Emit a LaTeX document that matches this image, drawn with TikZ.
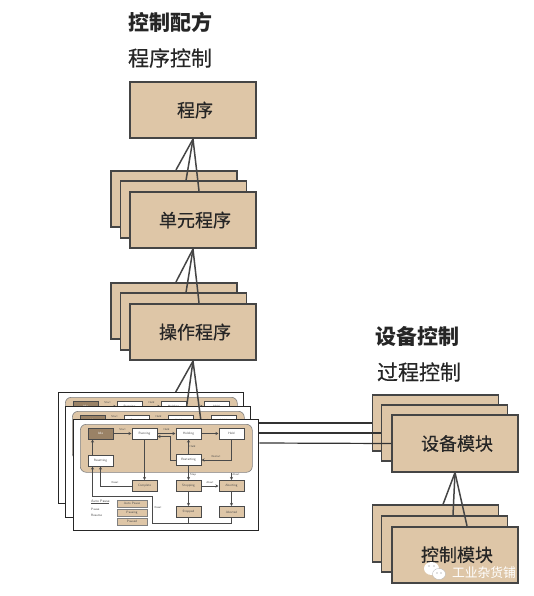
\documentclass[tikz,border=0pt]{standalone}
\usepackage{fontspec}
\newfontfamily\cjk{Noto Sans CJK SC}
\newfontfamily\cjkheavy[FakeBold=0.35]{Noto Sans CJK SC}
\usetikzlibrary{arrows.meta,calc,positioning,shapes.geometric}
\definecolor{tan}{HTML}{DEC6A7}
\definecolor{tanedge}{HTML}{454545}
\definecolor{idlebrown}{HTML}{9A8266}
\definecolor{wire}{HTML}{4A4A4A}
\newcommand{\modtext}[1]{\hspace{4pt}#1}
\newcommand{\cardtop}{
    \node[draw=black!85,fill=white,line width=1.4pt,minimum width=185pt,minimum height=111pt,anchor=north west,inner sep=0pt] (sheet) at (0,0) {};
    \node[draw=wire!70,fill=tan,line width=0.6pt,rounded corners=6pt,minimum width=172pt,minimum height=48pt,anchor=north west,inner sep=0pt] (region) at (7,5) {};
    \node[idlebox] (idle) at (27.5,14.5) {Idle};
    \node[whitebox] (run) at (71.5,14.5) {Running};
    \node[whitebox] (holding) at (115.5,14.5) {Holding};
    \node[whitebox] (held) at (158.5,14.5) {Held};
    \node[lbl] (startlbl) at (49.5,10.5) {Start};
    \node[lbl] (holdlbl) at (93.5,10.5) {Hold};
    \draw[flow] (idle) -- (run);
    \draw[flow] (run) -- (holding);
    \draw[flow] (holding) -- (held);
}
\tikzset{
  modbox/.style={draw=tanedge,fill=tan,line width=1.7pt,minimum width=126pt,minimum height=56.5pt,inner sep=0pt,font=\cjkheavy\fontsize{18}{18}\selectfont,text=black!85},
  title/.style={font=\cjkheavy\fontsize{21}{21}\selectfont,text=black!85,inner sep=0pt},
  fan/.style={draw=tanedge,line width=1.5pt},
  whitebox/.style={draw=wire,fill=white,line width=1pt,minimum width=25pt,minimum height=11pt,inner sep=0pt,font=\sffamily\fontsize{3.2}{3.6}\selectfont,text=black!70},
  tanbox/.style={whitebox,fill=tan},
  idlebox/.style={whitebox,fill=idlebrown,text=white},
  pausebox/.style={whitebox,fill=tan,draw=gray,minimum width=30pt,minimum height=7pt},
  flow/.style={draw=wire,line width=0.9pt,-{Stealth[length=3pt,width=3pt]}},
  flowplain/.style={draw=wire,line width=0.9pt},
  lbl/.style={font=\sffamily\fontsize{2.8}{3}\selectfont,text=black!70,inner sep=0pt},
  pics/hiddencard/.style={code={\cardtop}},
  pics/statecard/.style={code={
    \cardtop
    \node[whitebox] (reset) at (27.5,41.5) {Resetting};
    \node[whitebox] (restart) at (115.5,41) {Restarting};
    \node[tanbox] (complete) at (71.5,67) {Complete};
    \node[tanbox] (stopping) at (115.5,67) {Stopping};
    \node[tanbox] (aborting) at (158.5,67) {Aborting};
    \node[tanbox] (stopped) at (115.5,93) {Stopped};
    \node[tanbox] (aborted) at (158.5,93) {Aborted};
    \node[pausebox] (autop) at (59,84.5) {Auto Pause};
    \node[pausebox] (pausing) at (59,93.5) {Pausing};
    \node[pausebox] (paused) at (59,102.5) {Paused};
    \node[lbl,anchor=west,font=\sffamily\fontsize{3.6}{4}\selectfont] (autotxt) at (18,83) {\underline{Auto Pause}};
    \node[lbl,anchor=west,font=\sffamily\fontsize{3.2}{4}\selectfont] (pausetxt) at (18,90) {Pause};
    \node[lbl,anchor=west,font=\sffamily\fontsize{3.2}{4}\selectfont] (resumetxt) at (18,96) {Resume};
    \node[lbl] (heldlbl) at (119.5,28) {Held};
    \node[lbl] (restartlbl) at (143,37.5) {Restart};
    \node[lbl] (resetlbl) at (42,63.5) {Reset};
    \node[lbl] (stoplbl) at (120,56) {Stop};
    \node[lbl] (abortlbl) at (163,56) {Abort};
    \node[lbl] (abortlblb) at (137,63.5) {Abort};
    \node[lbl] (resetlblb) at (85,89) {Reset};
    \draw[flow] ([xshift=-8pt]reset.north) -- ([xshift=-8pt]idle.south);
    \draw[flow] (restart.west) -- ++(-5,0) |- ([yshift=-3pt]run.east);
    \draw[flow] (restart) -- (holding);
    \draw[flow] (held.south) |- (restart.east);
    \draw[flow] (run) -- (complete);
    \draw[flow] (complete.west) -| (reset.south);
    \draw[flow] (restart) -- (stopping);
    \draw[flow] (region.south -| aborting.north) -- (aborting);
    \draw[flow] (stopping) -- (aborting);
    \draw[flow] (stopping) -- (stopped);
    \draw[flow] (aborting) -- (aborted);
    \coordinate (busa) at (79,104);
    \coordinate (busb) at (79,77);
    \draw[flowplain] (stopped.south) -- (stopped.south |- busa);
    \draw[flow] (aborted.south) |- (busa) -- (busb) -| ([xshift=-8pt]reset.south);
  }}
}
\begin{document}
\begin{tikzpicture}[x=1pt,y=-1pt]
\useasboundingbox (0,0) rectangle (533,596);
\node[title,font=\cjk\bfseries\fontsize{21}{21}\selectfont] (ctitle) at (170.5,22) {控制配方};
\node[title] (ptitle) at (170,58) {程序控制};
\node[title,font=\cjk\bfseries\fontsize{21}{21}\selectfont] (etitle) at (417.5,336) {设备控制};
\node[title] (ftitle) at (419,372) {过程控制};
% recipe side
\node[modbox] (proc) at (193,110) {\modtext{程序}};
\foreach \nm/\y in {unit/170,oper/282}{
  \node[modbox] (\nm a) at (174,\y+29) {};
  \node[modbox] (\nm b) at (183.5,\y+39.5) {};
}
\node[modbox] (unitc) at (193,220) {\modtext{单元程序}};
\node[modbox] (operc) at (193,332) {\modtext{操作程序}};
\draw[fan] (proc.south) -- ([xshift=2pt]unita.north);
\draw[fan] (proc.south) -- ([xshift=2.5pt]unitb.north);
\draw[fan] (proc.south) -- ([xshift=6pt]unitc.north);
\draw[fan] (unitc.south) -- ([xshift=2pt]opera.north);
\draw[fan] (unitc.south) -- ([xshift=2.5pt]operb.north);
\draw[fan] (unitc.south) -- ([xshift=6pt]operc.north);
% state cards
\pic (back) at (58,392) {hiddencard};
\pic (mid) at (65,406) {hiddencard};
\pic (front) at (73,419) {statecard};
\draw[fan] (operc.south) -- ([xshift=24.5pt]backsheet.north);
\draw[fan] (operc.south) -- ([xshift=28.5pt]midsheet.north);
\draw[fan] (operc.south) -- ([xshift=34.5pt]frontsheet.north);
% equipment side
\node[modbox] (equa) at (435.5,423) {};
\node[modbox] (equb) at (444.5,433) {};
\node[modbox] (equc) at (455,443.5) {\modtext{\raisebox{1pt}{设备模块}}};
\node[modbox] (ctla) at (435.5,533.5) {};
\node[modbox] (ctlb) at (444.5,544) {};
\node[modbox] (ctlc) at (455,555) {\modtext{\raisebox{2pt}{控制模块}}};
\draw[fan] (equc.south) -- ([xshift=7.5pt]ctla.north);
\draw[fan] (equc.south) -- ([xshift=8.5pt]ctlb.north);
\draw[fan] (equc.south) -- ([xshift=12pt]ctlc.north);
\draw[flowplain,line width=1.2pt,draw=black!80] (frontsheet.east |- 0,423) -- (equa.west |- 0,423);
\draw[flowplain,line width=1.2pt,draw=black!80] (frontsheet.east |- 0,433) -- (equb.west |- 0,433);
\draw[flowplain,line width=1.2pt,draw=black!80] (frontsheet.east |- 0,443) -- (equc.west);
% watermark
\node[ellipse,fill=white,minimum width=15pt,minimum height=13pt,inner sep=0pt] (chata) at (431.5,568.5) {};
\node[ellipse,fill=white,draw=gray!60,line width=0.3pt,minimum width=13pt,minimum height=11pt,inner sep=0pt] (chatb) at (439,574) {};
\fill[gray] (429,566) circle (0.7) (434,566) circle (0.7) (437,573) circle (0.6) (441,573) circle (0.6);
\node[text=white,inner sep=0pt,font=\cjk\fontsize{12.8}{13}\selectfont] (mark0) at (484,573) {工业杂货铺};
\end{tikzpicture}
\end{document}
